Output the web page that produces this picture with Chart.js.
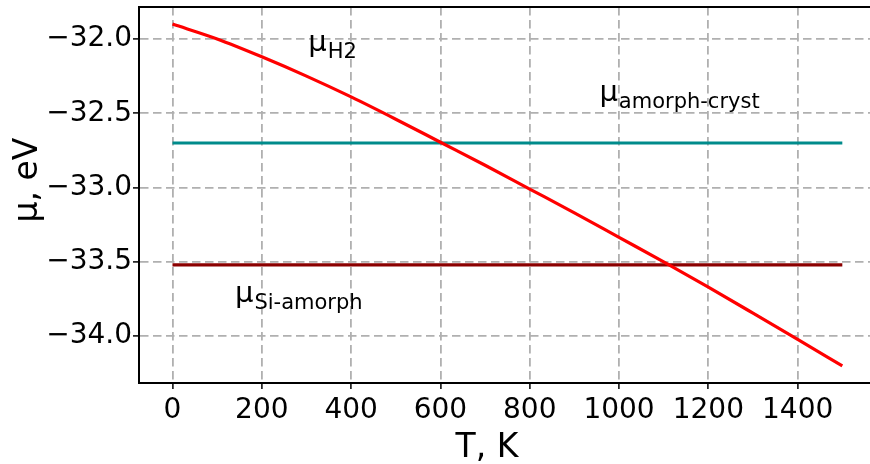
<!DOCTYPE html>
<html>
<head>
<meta charset="utf-8">
<script src="https://cdn.jsdelivr.net/npm/chart.js@4/dist/chart.umd.min.js"></script>
<style>
  html, body { margin: 0; padding: 0; background: #fff; }
  #wrap { width: 870px; height: 464px; }
</style>
</head>
<body>
<div id="wrap"><canvas id="muChart" width="870" height="464"></canvas></div>
<script>
// Temperature grid, K
const temps = [0, 100, 200, 300, 400, 500, 600, 700, 800, 900, 1000, 1100, 1200, 1300, 1400, 1500];
// mu of H2 vs temperature, eV
const muH2 = [-31.90, -32.00, -32.12, -32.25, -32.39, -32.54, -32.695, -32.85, -33.01, -33.17, -33.335, -33.50, -33.67, -33.845, -34.022, -34.20];
// constant levels, eV
const muAmorphCryst = -32.70;
const muSiAmorph = -33.52;

const xTicks = [0, 200, 400, 600, 800, 1000, 1200, 1400];
const yTicks = [-34.0, -33.5, -33.0, -32.5, -32.0];

// text labels: [main, subscript, T, mu]
const labels = [
  ["μ", "H2", 304, -32.08],
  ["μ", "amorph-cryst", 956, -32.42],
  ["μ", "Si-amorph", 140, -33.77]
];

const FONT = "'DejaVu Sans', sans-serif";

const flat = v => temps.map(() => v);

// top spine, axis titles and mu labels
const extras = {
  id: "extras",
  afterDraw(chart) {
    const ctx = chart.ctx;
    const a = chart.chartArea;
    const xs = chart.scales.x, ys = chart.scales.y;
    ctx.save();
    ctx.strokeStyle = "#000";
    ctx.lineWidth = 2;
    ctx.beginPath();
    ctx.moveTo(a.left - 1, a.top);
    ctx.lineTo(a.right, a.top);
    ctx.stroke();

    ctx.fillStyle = "#000";
    ctx.textBaseline = "alphabetic";
    labels.forEach(([m, sub, t, v]) => {
      const px = xs.getPixelForValue(t);
      const py = ys.getPixelForValue(v);
      ctx.font = "29px " + FONT;
      ctx.textAlign = "left";
      ctx.fillText(m, px, py);
      const w = ctx.measureText(m).width;
      ctx.font = "21px " + FONT;
      ctx.fillText(sub, px + w + 1, py + 7);
    });

    // axis titles
    ctx.font = "33px " + FONT;
    ctx.textAlign = "center";
    ctx.fillText("T, K", 487, 457);
    ctx.translate(37, 180);
    ctx.rotate(-Math.PI / 2);
    ctx.fillText("μ, eV", 0, 0);
    ctx.restore();
  }
};

const gridOpts = {
  color: "#b0b0b0",
  lineWidth: 1.8,
  tickColor: "#000",
  tickLength: 6,
  tickWidth: 1.5,
  tickBorderDash: []
};

new Chart(document.getElementById("muChart").getContext("2d"), {
  type: "line",
  data: {
    labels: temps,
    datasets: [
      {
        data: muH2,
        borderColor: "#ff0000",
        borderWidth: 3.2,
        pointRadius: 0,
        cubicInterpolationMode: "monotone"
      },
      {
        data: flat(muAmorphCryst),
        borderColor: "#008b8b",
        borderWidth: 3.2,
        pointRadius: 0
      },
      {
        data: flat(muSiAmorph),
        borderColor: "#8b0000",
        borderWidth: 3.2,
        pointRadius: 0
      }
    ]
  },
  options: {
    responsive: false,
    animation: false,
    layout: { padding: { left: 0, right: 0, top: 7, bottom: 0 } },
    plugins: { legend: { display: false }, tooltip: { enabled: false } },
    scales: {
      x: {
        type: "linear",
        min: -75,
        max: 1562,
        afterBuildTicks: s => { s.ticks = xTicks.map(v => ({ value: v })); },
        afterFit: s => { s.height = 81; s.paddingLeft = 0; s.paddingRight = 0; },
        ticks: {
          color: "#000",
          font: { family: FONT, size: 28 },
          padding: 5,
          maxRotation: 0,
          callback: v => String(v)
        },
        grid: gridOpts,
        border: { display: true, color: "#000", width: 2, dash: [8.5, 4.5] }
      },
      y: {
        type: "linear",
        min: -34.315,
        max: -31.785,
        afterBuildTicks: s => { s.ticks = yTicks.map(v => ({ value: v })); },
        afterFit: s => { s.width = 139; s.paddingTop = 0; s.paddingBottom = 0; },
        ticks: {
          color: "#000",
          font: { family: FONT, size: 28 },
          padding: 1,
          callback: v => v.toFixed(1).replace("-", "\u2212")
        },
        grid: gridOpts,
        border: { display: true, color: "#000", width: 2, dash: [8.5, 4.5] }
      }
    }
  },
  plugins: [extras]
});
</script>
</body>
</html>
